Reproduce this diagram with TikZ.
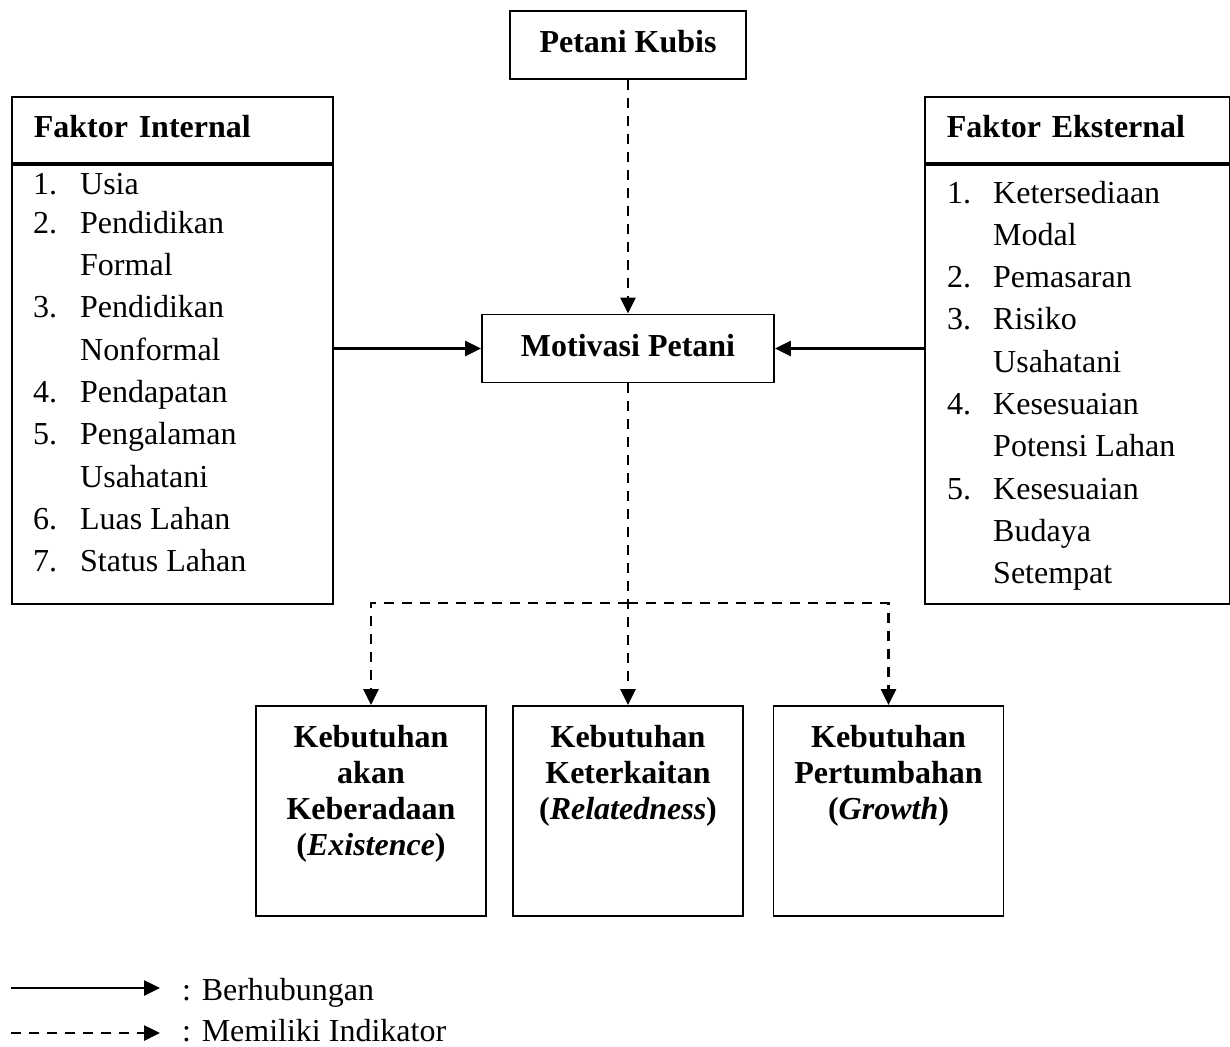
\documentclass[tikz,border=0pt]{standalone}
\usepackage{fontspec}
\setmainfont{Liberation Serif}
\usepackage{array}
\usetikzlibrary{arrows.meta,positioning}
\tikzset{
  box/.style={draw,line width=1.8pt,inner sep=0pt,text height=22pt,text depth=6pt,
              font=\bfseries\fontsize{32}{36}\selectfont},
  head/.style={box,anchor=north west,minimum height=66pt,inner xsep=22pt,align=left},
  lst/.style={draw,line width=1.8pt,inner sep=0pt},
  items/.style={anchor=base west,inner sep=0pt,font=\fontsize{32}{42.3}\selectfont},
  kbox/.style={draw,line width=1.8pt,inner sep=0pt,minimum width=230pt,minimum height=210pt},
  ktxt/.style={anchor=base,inner sep=0pt,font=\bfseries\fontsize{32}{36}\selectfont},
  arr/.style={-{Triangle[length=16pt,width=15pt]},line width=2.6pt},
  darr/.style={arr,dash pattern=on 10pt off 8pt},
  lbl/.style={anchor=base west,inner sep=0pt,font=\fontsize{32}{40}\selectfont}
}
\begin{document}
\begin{tikzpicture}[x=1pt,y=-1pt]
\useasboundingbox (0,0) rectangle (1230,1046);
\node[box,minimum width=236pt,minimum height=68pt] (pk) at (628,45) {Petani Kubis};
\node[box,minimum width=292pt,minimum height=68pt] (mot) at (628,348.5) {Motivasi Petani};

\node[head,text width=277pt] (fih) at (11,96) {Faktor Internal};
\node[lst,below=0pt of fih,minimum width=321pt,minimum height=439pt] (fil) {};
\node[items] (fit) at (33,194) {\begin{tabular}[t]{@{}p{47pt}@{}l@{}}
1. & Usia\\[-3pt]
2. & Pendidikan\\
   & Formal\\
3. & Pendidikan\\
   & Nonformal\\
4. & Pendapatan\\
5. & Pengalaman\\
   & Usahatani\\
6. & Luas Lahan\\
7. & Status Lahan
\end{tabular}};

\node[head,text width=261pt] (feh) at (924,96) {Faktor Eksternal};
\node[lst,below=0pt of feh,minimum width=305pt,minimum height=439pt] (fel) {};
\node[items] (fet) at (947,203) {\begin{tabular}[t]{@{}p{46pt}@{}l@{}}
1. & Ketersediaan\\
   & Modal\\
2. & Pemasaran\\
3. & Risiko\\
   & Usahatani\\
4. & Kesesuaian\\
   & Potensi Lahan\\
5. & Kesesuaian\\
   & Budaya\\
   & Setempat
\end{tabular}};

\node[kbox] (kb1) at (371,811) {};
\node[kbox] (kb2) at (628,811) {};
\node[kbox] (kb3) at (888.5,811) {};
\node[ktxt] (kt1) at ([yshift=-42pt]kb1.north) {\begin{tabular}[t]{@{}c@{}}Kebutuhan\\akan\\Keberadaan\\(\textit{Existence})\end{tabular}};
\node[ktxt] (kt2) at ([yshift=-42pt]kb2.north) {\begin{tabular}[t]{@{}c@{}}Kebutuhan\\Keterkaitan\\(\textit{Relatedness})\end{tabular}};
\node[ktxt] (kt3) at ([yshift=-42pt]kb3.north) {\begin{tabular}[t]{@{}c@{}}Kebutuhan\\Pertumbahan\\(\textit{Growth})\end{tabular}};

\draw[darr] (pk) -- (mot);
\draw[arr] (fil.east |- mot) -- (mot.west);
\draw[arr] (fel.west |- mot) -- (mot.east);
\draw[darr] (mot) -- (kb2);
\coordinate (split) at (628,603);
\draw[darr] (split) -| (kb1.north);
\draw[darr] (split) -| (kb3.north);

\coordinate (lg1a) at (11,988);
\coordinate (lg1b) at (160,988);
\draw[arr] (lg1a) -- (lg1b);
\node[lbl] (lg1) at (182,1000) {: Berhubungan};
\coordinate (lg2a) at (11,1033);
\coordinate (lg2b) at (160,1033);
\draw[darr] (lg2a) -- (lg2b);
\node[lbl] (lg2) at (182,1041) {: Memiliki Indikator};
\end{tikzpicture}
\end{document}
